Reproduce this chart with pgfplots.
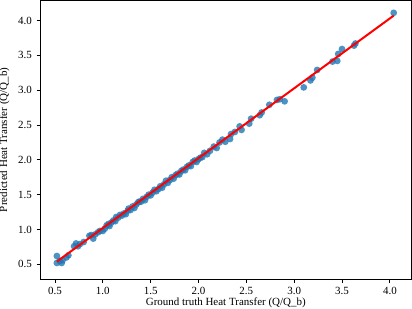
\documentclass[border=0pt]{standalone}
\usepackage{fontspec}
\setmainfont{Liberation Serif}
\usepackage{pgfplots}
\pgfplotsset{compat=1.18}
\definecolor{mplblue}{HTML}{1F77B4}
\begin{document}
\begin{tikzpicture}
\begin{axis}[
  name=ax, set layers,
  scale only axis, width=371bp, height=278.5bp,
  xmin=0.344, xmax=4.226, ymin=0.285, ymax=4.287,
  xtick={0.5,1.0,...,4.0}, ytick={0.5,1.0,...,4.0},
  /pgf/number format/fixed, /pgf/number format/fixed zerofill, /pgf/number format/precision=1,
  /pgf/number format/assume math mode=true,
  tick label style={font=\fontsize{11}{12}\selectfont},
  label style={font=\fontsize{11}{12}\selectfont},
  xlabel={Ground truth Heat Transfer (Q/Q\_b)},
  ylabel={Predicted Heat Transfer (Q/Q\_b)},
  xtick pos=bottom, ytick pos=left, tick align=outside,
  major tick length=3.5bp,
  tick style={black, line width=0.8bp},
  axis line style={black, line width=1bp},
  yticklabel style={inner xsep=1bp, xshift=-3.5bp},
  xticklabel style={inner ysep=1bp, yshift=-3.5bp},
  xlabel style={at={(axis description cs:0.5,-0.0825)}, anchor=center},
  ylabel style={at={(axis description cs:-0.096,0.5)}, anchor=center},
  clip=false,
]
\addplot[only marks, mark=*, mark size=3.4bp, color=mplblue, mark options={fill=mplblue, fill opacity=0.8, draw opacity=0}] coordinates {
(0.52,0.62) (0.52,0.52) (0.55,0.55) (0.57,0.52) (0.58,0.56) (0.62,0.60) (0.64,0.63)
(0.70,0.76) (0.72,0.80) (0.74,0.76) (0.76,0.79) (0.80,0.82) (0.86,0.91) (0.88,0.92)
(0.90,0.87) (0.92,0.93) (0.95,0.96) (0.97,0.98) (1.00,0.98) (1.02,1.01) (1.04,1.06)
(1.06,1.08) (1.07,1.05) (1.09,1.10) (1.11,1.13) (1.13,1.12) (1.14,1.18) (1.16,1.17)
(1.18,1.21) (1.20,1.20) (1.22,1.23) (1.24,1.22) (1.26,1.27) (1.27,1.30) (1.29,1.28)
(1.31,1.33) (1.33,1.31) (1.35,1.36) (1.37,1.39) (1.38,1.40) (1.40,1.40) (1.42,1.44)
(1.44,1.42) (1.46,1.47) (1.48,1.50) (1.50,1.49) (1.52,1.53) (1.54,1.57) (1.56,1.55)
(1.58,1.58) (1.60,1.62) (1.62,1.60) (1.64,1.65) (1.66,1.70) (1.68,1.67) (1.70,1.71)
(1.72,1.75) (1.74,1.73) (1.76,1.78) (1.78,1.80) (1.80,1.79) (1.82,1.84) (1.84,1.86)
(1.86,1.85) (1.88,1.90) (1.90,1.92) (1.92,1.91) (1.94,1.97) (1.96,1.99) (1.98,1.97)
(2.00,2.01) (2.02,2.03) (2.04,2.04) (2.06,2.10) (2.09,2.08) (2.12,2.13) (2.16,2.19)
(2.19,2.17) (2.22,2.25) (2.25,2.29) (2.28,2.26) (2.33,2.30) (2.34,2.37) (2.38,2.40)
(2.43,2.48) (2.45,2.43) (2.53,2.52) (2.55,2.59) (2.64,2.64) (2.66,2.68) (2.74,2.79)
(2.82,2.86) (2.85,2.87) (2.90,2.84) (3.10,3.04) (3.17,3.14) (3.19,3.18) (3.24,3.29)
(3.40,3.41) (3.45,3.42) (3.46,3.52) (3.50,3.59) (3.625,3.64) (3.64,3.67) (4.04,4.11)
};
\addplot[red, line width=2bp, on layer=axis foreground] coordinates {(0.52,0.54) (4.04,4.07)};
\end{axis}
\pgfresetboundingbox
\path ([xshift=-40bp,yshift=-29bp]ax.south west) rectangle ([xshift=0.5bp,yshift=0.5bp]ax.north east);
\end{tikzpicture}
\end{document}
